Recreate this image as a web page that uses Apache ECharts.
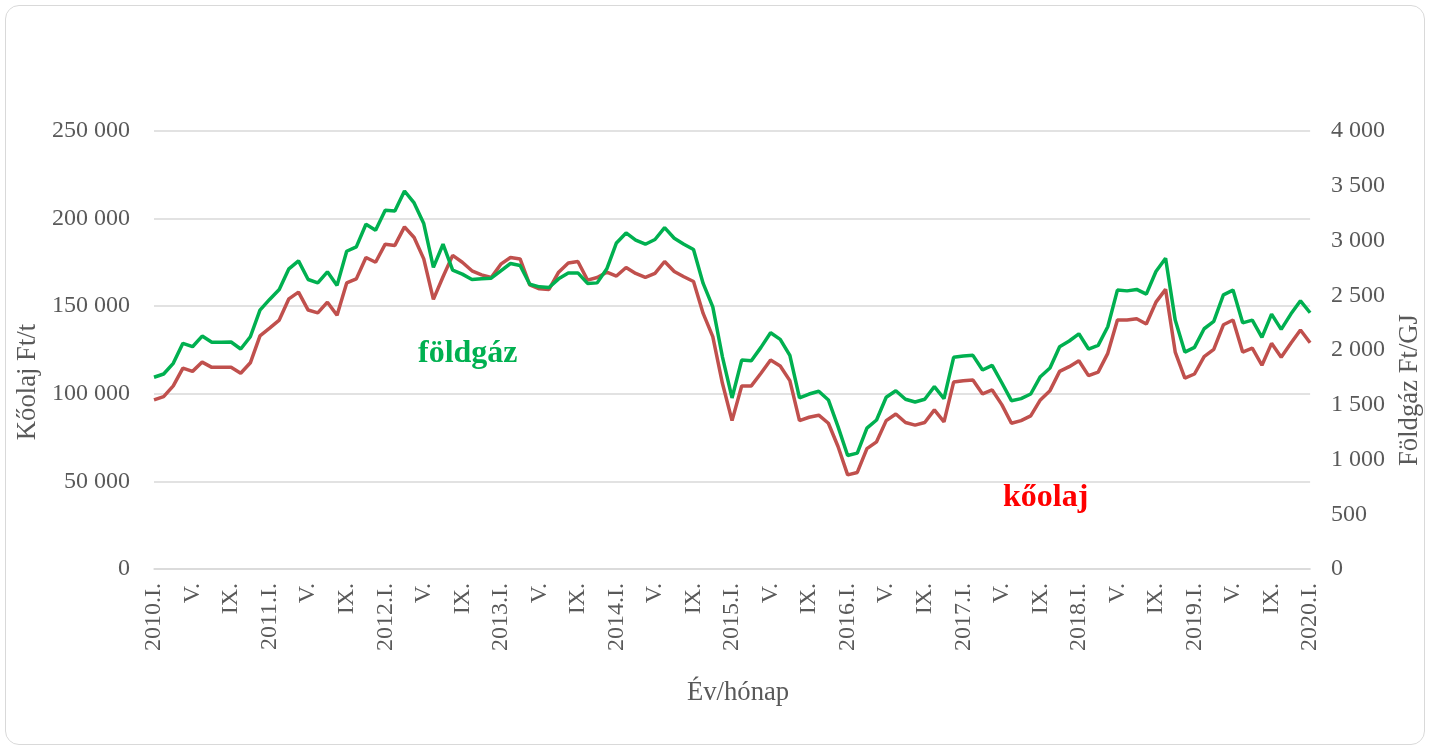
<!DOCTYPE html>
<html lang="hu">
<head>
    <meta charset="UTF-8">
    <title>Kőolaj és földgáz ára</title>
    <script src="https://cdn.jsdelivr.net/npm/echarts@6/dist/echarts.min.js"></script>
    <style>
        html, body { margin: 0; padding: 0; background: #fff; }
        #chart { width: 1431px; height: 749px; }
        .frame {
            position: absolute; left: 5px; top: 5px;
            width: 1418px; height: 738px;
            border: 1px solid #d9d9d9; border-radius: 14px;
            pointer-events: none;
        }
    </style>
</head>
<body>
<div id="chart"></div>
<div class="frame"></div>
<script type="text/javascript">
    // évek és hónapok (római számmal)
    const years = [2010, 2011, 2012, 2013, 2014, 2015, 2016, 2017, 2018, 2019, 2020];
    const months = ['I.', 'II.', 'III.', 'IV.', 'V.', 'VI.', 'VII.', 'VIII.', 'IX.', 'X.', 'XI.', 'XII.'];

    // kőolaj, Ft/t (bal tengely)
    const koolaj = [
        96500, 98400, 104500, 114700, 112800, 118100, 115100, 115100, 115100, 111700,
        117700, 133100, 137500, 142100, 154200, 158000, 147800, 146200, 152300, 144800,
        163300, 165600, 177800, 175100, 185400, 184700, 195300, 189200, 177000, 153900,
        166800, 179000, 175100, 170200, 167900, 166400, 174000, 177800, 177000, 162200,
        159900, 159600, 169400, 174700, 175500, 164900, 166400, 169400, 167200, 172100,
        168700, 166400, 168700, 175500, 169800, 166800, 164100, 145900, 132600, 106000,
        84700, 104500, 104500, 111700, 119300, 115900, 107500, 84700, 86600, 87800,
        83200, 69900, 53700, 55100, 68700, 72600, 84700, 88500, 83600, 82100,
        83600, 90800, 84000, 106700, 107500, 107900, 99900, 102200, 93800, 83200,
        84700, 87400, 96500, 101800, 112800, 115500, 118900, 110400, 112400, 123100,
        142100, 142100, 142800, 139800, 152300, 159600, 123800, 109000, 111300, 121200,
        125400, 139400, 142100, 123800, 126100, 116300, 128800, 120800, 128800, 136400,
        129100
    ];

    // földgáz, Ft/GJ (jobb tengely)
    const foldgaz = [
        1751, 1781, 1878, 2061, 2030, 2127, 2070, 2070, 2073, 2009,
        2121, 2364, 2462, 2553, 2741, 2814, 2644, 2613, 2714, 2590,
        2902, 2942, 3148, 3094, 3276, 3270, 3452, 3343, 3155, 2754,
        2966, 2729, 2693, 2644, 2650, 2656, 2723, 2790, 2772, 2601,
        2577, 2571, 2650, 2704, 2704, 2608, 2613, 2741, 2978, 3069,
        3003, 2966, 3009, 3118, 3021, 2966, 2918, 2608, 2394, 1938,
        1562, 1908, 1902, 2024, 2157, 2097, 1951, 1562, 1598, 1623,
        1544, 1300, 1037, 1058, 1286, 1361, 1568, 1628, 1550, 1525,
        1550, 1665, 1556, 1933, 1945, 1951, 1817, 1860, 1701, 1537,
        1556, 1598, 1756, 1835, 2030, 2082, 2148, 2009, 2042, 2212,
        2547, 2540, 2553, 2510, 2717, 2838, 2273, 1981, 2024, 2194,
        2261, 2504, 2547, 2248, 2273, 2115, 2328, 2188, 2328, 2449,
        2340
    ];

    // kategóriák: 2010.I. ... 2020.I.
    const categories = [];
    years.forEach(function (y) {
        months.forEach(function (m, i) {
            if (categories.length < koolaj.length) {
                categories.push(i === 0 ? y + '.' + m : m);
            }
        });
    });

    const serif = '"Liberation Serif", "Times New Roman", serif';
    const gray = '#595959';

    function spaced(v) {
        return String(v).replace(/\B(?=(\d{3})+(?!\d))/g, ' ');
    }

    let myChart = echarts.init(document.getElementById('chart'), null, {renderer: 'canvas'});

    let option = {
        animation: false,
        backgroundColor: '#fff',
        textStyle: {fontFamily: serif},
        grid: {left: 154, right: 120, top: 131, bottom: 180},
        xAxis: {
            type: 'category',
            data: categories,
            boundaryGap: false,
            name: 'Év/hónap',
            nameLocation: 'middle',
            nameGap: 110,
            nameTextStyle: {color: gray, fontSize: 26.7, fontFamily: serif, padding: [0, 0, 0, 12]},
            axisLine: {lineStyle: {color: '#d9d9d9', width: 1.5}},
            axisTick: {show: false},
            axisLabel: {
                interval: 3,
                rotate: 90,
                margin: 14,
                color: gray,
                fontSize: 24,
                fontFamily: serif
            },
            splitLine: {show: false}
        },
        yAxis: [
            {
                type: 'value',
                min: 0,
                max: 250000,
                interval: 50000,
                name: 'Kőolaj Ft/t',
                nameLocation: 'middle',
                nameRotate: 90,
                nameGap: 104,
                nameTextStyle: {color: gray, fontSize: 26.7, fontFamily: serif, padding: [0, 64, 0, 0]},
                axisLine: {show: false},
                axisTick: {show: false},
                axisLabel: {
                    margin: 24,
                    color: gray,
                    fontSize: 24,
                    fontFamily: serif,
                    formatter: spaced
                },
                splitLine: {lineStyle: {color: '#d9d9d9', width: 1.5}}
            },
            {
                type: 'value',
                min: 0,
                max: 4000,
                interval: 500,
                name: 'Földgáz Ft/GJ',
                nameLocation: 'middle',
                nameRotate: 90,
                nameGap: 84,
                nameTextStyle: {color: gray, fontSize: 26.7, fontFamily: serif, padding: [0, 80, 0, 0]},
                axisLine: {show: false},
                axisTick: {show: false},
                axisLabel: {
                    margin: 21,
                    color: gray,
                    fontSize: 24,
                    fontFamily: serif,
                    formatter: spaced
                },
                splitLine: {show: false}
            }
        ],
        series: [
            {
                name: 'kőolaj',
                type: 'line',
                yAxisIndex: 0,
                data: koolaj,
                symbol: 'none',
                lineStyle: {color: '#c0504d', width: 3.5},
                itemStyle: {color: '#c0504d'}
            },
            {
                name: 'földgáz',
                type: 'line',
                yAxisIndex: 1,
                data: foldgaz,
                symbol: 'none',
                lineStyle: {color: '#00b050', width: 3.5},
                itemStyle: {color: '#00b050'}
            }
        ],
        graphic: [
            {
                type: 'text',
                left: 418,
                top: 338,
                style: {text: 'földgáz', fill: '#00b050', font: 'bold 32px ' + serif}
            },
            {
                type: 'text',
                left: 1003,
                top: 482,
                style: {text: 'kőolaj', fill: '#ff0000', font: 'bold 32px ' + serif}
            }
        ]
    };

    myChart.setOption(option, true);
</script>
</body>
</html>
